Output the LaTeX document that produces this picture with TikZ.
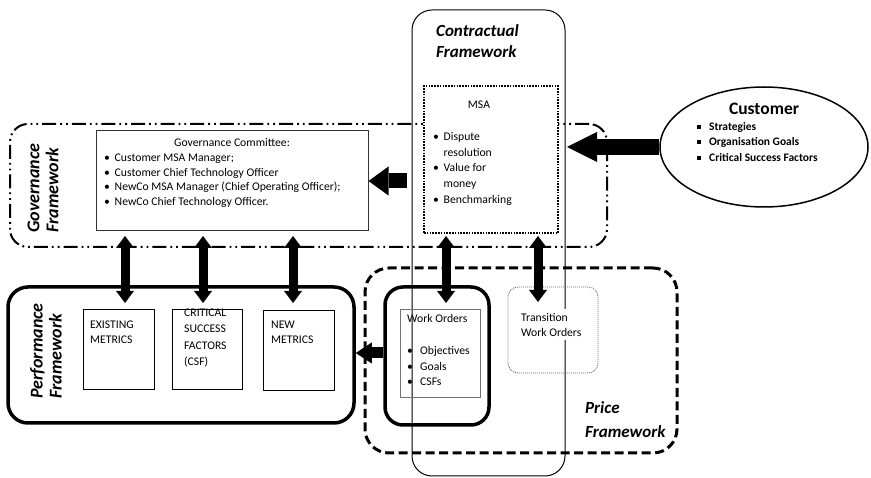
\documentclass[tikz,border=0pt]{standalone}
\usepackage{fontspec}
\setmainfont{Carlito}
\usetikzlibrary{arrows.meta,shapes.geometric}
% bullet helpers
\newcommand{\itembul}{\makebox[10.5pt][l]{\textbullet}}
\newcommand{\sqbul}{\makebox[12pt][l]{\rule[1.6pt]{3.8pt}{3.8pt}}}
\newcommand{\hangind}{\hspace*{10.5pt}}
\begin{document}
\begin{tikzpicture}[x=1pt,y=-1pt,
  plainbox/.style={draw, inner sep=0pt},
  fwlabel/.style={font=\fontsize{17}{21}\selectfont\bfseries\itshape, align=left, inner sep=0pt},
  sidelabel/.style={font=\fontsize{18}{19}\selectfont\bfseries\itshape, align=left, inner sep=0pt, rotate=90},
  bodytext/.style={font=\fontsize{11.7}{14.5}\selectfont, align=left, inner sep=0pt},
  bigarrow/.style n args={3}{line width=#1, -{Triangle[width=#2,length=#3,line width=0pt]}},
  dblarrow/.style={line width=9pt, {Triangle[width=18pt,length=12pt,line width=0pt]}-{Triangle[width=18pt,length=12pt,line width=0pt]}}
]
\useasboundingbox (0,0) rectangle (871,478);

% ---- framework outlines ----
\node[plainbox, line width=1pt, rounded corners=20pt, minimum width=153pt, minimum height=466pt] (contract) at (488.5,243) {};
\node[plainbox, line width=2pt, rounded corners=18pt, minimum width=597pt, minimum height=123pt,
      dash pattern=on 14pt off 4pt on 1.8pt off 4pt on 1.8pt off 4pt] (govframe) at (308.5,185.5) {};
\node[plainbox, line width=3pt, rounded corners=24pt, minimum width=312pt, minimum height=185pt,
      dash pattern=on 9pt off 4.5pt] (price) at (521,360.5) {};
\node[plainbox, line width=3.5pt, rounded corners=20pt, minimum width=346pt, minimum height=136pt] (perf) at (181,355) {};

% ---- inner boxes ----
\node[plainbox, line width=1pt, draw=black!80, minimum width=272pt, minimum height=100pt] (gc) at (232,181) {};
\node[plainbox, line width=1.6pt, dash pattern=on 1.6pt off 1.2pt, fill=white, minimum width=134pt, minimum height=147pt] (msa) at (491,159.5) {};
\node[draw, ellipse, line width=1.5pt, inner sep=0pt, minimum width=208pt, minimum height=120pt] (cust) at (764,147) {};

\node[plainbox, line width=1pt, minimum width=71pt, minimum height=80pt] (em) at (118.5,350) {};
\node[plainbox, line width=1pt, minimum width=70pt, minimum height=80pt] (csf) at (207,350) {};
\node[plainbox, line width=1pt, minimum width=71pt, minimum height=80pt] (nm) at (298.5,351) {};

\node[plainbox, line width=3.5pt, rounded corners=18pt, minimum width=104pt, minimum height=138pt] (wo) at (437,356) {};
\node[plainbox, line width=0.7pt, draw=black!55, minimum width=80pt, minimum height=88pt] (woin) at (440,353) {};
\node[plainbox, line width=0.8pt, draw=black!60, rounded corners=10pt, dash pattern=on 1pt off 1pt, minimum width=90pt, minimum height=86pt] (tr) at (553,330) {};

% ---- arrow end points ----
\coordinate (cm) at (567,147);
\coordinate (mg) at (407,181);
\coordinate (g1) at (125,236); \coordinate (p1) at (125,303);
\coordinate (g2) at (203,236); \coordinate (p2) at (203,303);
\coordinate (g3) at (293,236); \coordinate (p3) at (293,303);
\coordinate (m1) at (446,236); \coordinate (w1) at (446,303);
\coordinate (m2) at (538,236); \coordinate (t1) at (538,302);

% ---- connectors ----
\draw[bigarrow={16pt}{30pt}{30pt}] (cust.west) -- (cm);
\draw[bigarrow={15pt}{29pt}{20pt}] (mg) -- (gc.east);
\draw[bigarrow={11pt}{21pt}{16pt}] ([yshift=3pt]wo.west) -- ([yshift=3pt]wo.west -| perf.east);
\draw[dblarrow] (g1) -- (p1);
\draw[dblarrow] (g2) -- (p2);
\draw[dblarrow] (g3) -- (p3);
\draw[dblarrow] (m1) -- (w1);
\draw[dblarrow] (m2) -- (t1);

% ---- framework labels ----
\node[fwlabel, anchor=west] (contractlbl) at (436,41) {Contractual\\Framework};
\node[sidelabel, anchor=center] (govlbl) at (43,188) {Governance\\Framework};
\node[sidelabel, anchor=center] (perflbl) at (46,351) {Performance\\Framework};
\node[fwlabel, anchor=west, font=\fontsize{17}{24}\selectfont\bfseries\itshape] (pricelbl) at (585,420) {Price\\Framework};

% ---- governance committee ----
\node[bodytext, anchor=base] (gctitle) at (232,147) {Governance Committee:};
\node[bodytext, anchor=north west] (gclist) at (104,154)
  {\itembul Customer MSA Manager;\\
   \itembul Customer Chief Technology Officer\\
   \itembul NewCo MSA Manager (Chief Operating Officer);\\
   \itembul NewCo Chief Technology Officer.};

% ---- MSA ----
\node[bodytext, anchor=base] (msatitle) at (479,109) {MSA};
\node[bodytext, anchor=north west, font=\fontsize{11.7}{15.8}\selectfont] (msalist) at (433,132)
  {\itembul Dispute\\ \hangind resolution\\ \itembul Value for\\ \hangind money\\ \itembul Benchmarking};

% ---- customer ----
\node[anchor=base, inner sep=0pt, font=\fontsize{17.5}{20}\selectfont\bfseries] (custtitle) at (764,115) {Customer};
\node[anchor=north west, inner sep=0pt, align=left, font=\fontsize{11.5}{15.5}\selectfont\bfseries] (custlist) at (697,122)
  {\sqbul Strategies\\ \sqbul Organisation Goals\\ \sqbul Critical Success Factors};

% ---- metrics ----
\node[bodytext, anchor=north west, font=\fontsize{11.7}{15}\selectfont] (emtext) at (90,321) {EXISTING\\METRICS};
\node[bodytext, anchor=north west, font=\fontsize{11.7}{16.2}\selectfont] (csftext) at (184,309) {CRITICAL\\SUCCESS\\FACTORS\\(CSF)};
\node[bodytext, anchor=north west, font=\fontsize{11.7}{15}\selectfont] (nmtext) at (271,321) {NEW\\METRICS};

% ---- work orders ----
\node[bodytext, anchor=north west, font=\fontsize{11.7}{15}\selectfont] (wotitle) at (407,314) {Work Orders};
\node[bodytext, anchor=north west, font=\fontsize{11.7}{15.8}\selectfont] (wolist) at (407,346)
  {\makebox[13pt][l]{\textbullet}Objectives\\ \makebox[13pt][l]{\textbullet}Goals\\ \makebox[13pt][l]{\textbullet}CSFs};
\node[bodytext, anchor=north west, fill=white, inner xsep=1pt, inner ysep=4pt, font=\fontsize{11.7}{15}\selectfont] (trtext) at (520,309) {Transition\\Work Orders};
\end{tikzpicture}
\end{document}
